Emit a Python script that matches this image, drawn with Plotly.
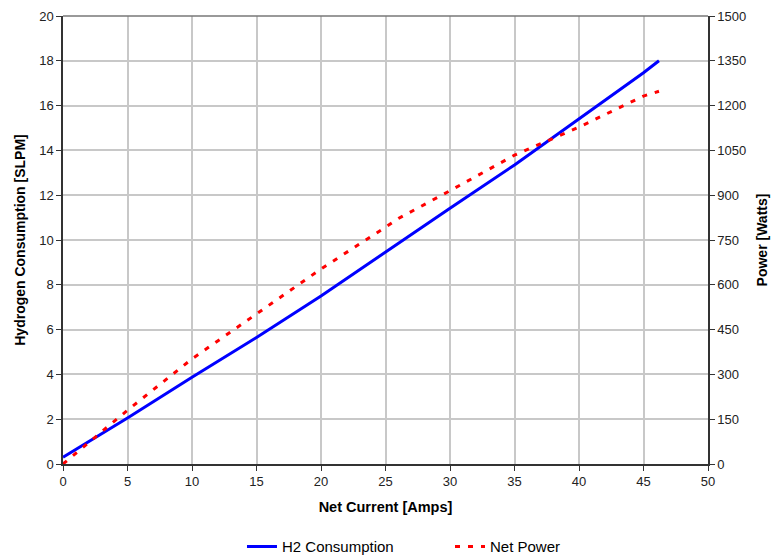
import plotly.graph_objects as go

# Net current [A]
h2_current = [0, 5, 10, 15, 20, 25, 30, 35, 40, 45, 46.2]
h2_slpm = [0.3, 2.05, 3.87, 5.65, 7.5, 9.48, 11.42, 13.35, 15.4, 17.47, 18.0]

pw_current = [0, 2, 5, 10, 15, 20, 25, 26, 30, 35, 40, 45, 46.2]
pw_watts = [0, 72, 180, 352, 502, 653, 793, 822, 915, 1034, 1128, 1232, 1248]

x_ticks = list(range(0, 55, 5))
y_ticks = list(range(0, 22, 2))
y2_ticks = list(range(0, 1650, 150))

FONT = "Liberation Sans, Arial, sans-serif"

fig = go.Figure()
fig.add_trace(go.Scatter(x=h2_current, y=h2_slpm, mode="lines", name="H2 Consumption",
                         line=dict(color="#0000ff", width=3), yaxis="y"))
fig.add_trace(go.Scatter(x=pw_current, y=pw_watts, mode="lines", name="Net Power",
                         line=dict(color="#ff0000", width=3, dash="5px,8px"), yaxis="y2"))

axis_common = dict(showline=True, linecolor="#333333", linewidth=1.5, ticks="outside",
                   ticklen=5, tickcolor="#333333", tickfont=dict(size=13, color="#222", family=FONT),
                   zeroline=False, automargin=False)

fig.update_layout(
    width=771, height=558,
    margin=dict(l=63, r=63, t=16, b=94),
    paper_bgcolor="white", plot_bgcolor="white",
    font=dict(family=FONT, color="#000"),
    xaxis=dict(range=[0, 50], tickvals=x_ticks, showgrid=True, gridcolor="#c8c8c8", gridwidth=1.5,
               title=dict(text="<b>Net Current [Amps]</b>", font=dict(size=14.5, family=FONT), standoff=14),
               **axis_common),
    yaxis=dict(range=[0, 20], tickvals=y_ticks, showgrid=True, gridcolor="#c8c8c8", gridwidth=1.5,
               title=dict(text="<b>Hydrogen Consumption [SLPM]</b>", font=dict(size=14, family=FONT), standoff=10),
               **axis_common),
    yaxis2=dict(range=[0, 1500], tickvals=y2_ticks, overlaying="y", side="right", showgrid=False,
                title=dict(text="<b>Power [Watts]</b>", font=dict(size=14, family=FONT), standoff=12),
                **axis_common),
    legend=dict(orientation="h", x=0.2775, xanchor="left", yref="container", y=0.02, yanchor="middle",
                font=dict(size=15, family=FONT), entrywidth=163, entrywidthmode="pixels"),
    shapes=[dict(type="line", xref="paper", yref="paper", x0=0, x1=1, y0=1, y1=1,
                 line=dict(color="#777777", width=1.5))],
)

fig.write_html("out.html")
